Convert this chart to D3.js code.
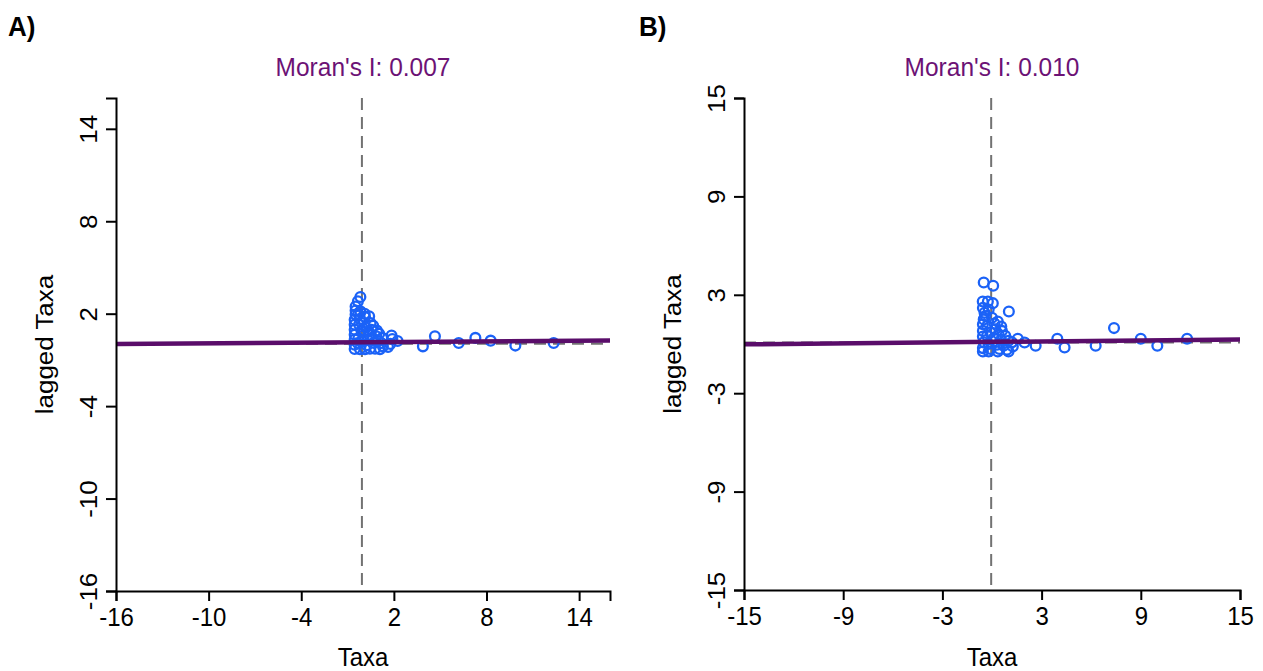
<!DOCTYPE html>
<html>
<head>
<meta charset="utf-8">
<script src="https://cdn.jsdelivr.net/npm/d3@7"></script>
<style>
  html, body { margin: 0; padding: 0; background: #ffffff; }
  svg { display: block; font-family: "Liberation Sans", Arial, Helvetica, sans-serif; }
</style>
</head>
<body>
<svg id="chart" width="1263" height="671"></svg>
<script>
// Moran scatterplots: taxa value vs spatially lagged taxa value

const panelLabels = ["A)", "B)"];
const moransI = [0.007, 0.010];
const lineIntercepts = [0.15, 0.13];
const meanTaxa = [-0.07, -0.05];
const meanLagged = [0.05, 0.09];
const xDomainsA = [-16, 16];
const xDomainsB = [-15, 15];
const ticksA = [-16, -10, -4, 2, 8, 14];
const ticksB = [-15, -9, -3, 3, 9, 15];

// Panel A: taxa and lagged taxa
const taxaA = [
  -0.17, -0.33, -0.48, -0.48, -0.48, -0.17, 0.11, -0.54, -0.54, -0.54,
  -0.54, -0.54, -0.54, -0.54, -0.20, 0.13, 0.40, 0.49, 0.66, 0.56,
  0.40, 0.87, 0.97, 1.25, 1.19, 1.29, 1.85, 1.90, 1.77, 1.62,
  -0.20, 0.13, 0.45, 0.78, 1.10, -0.30, -0.10, 0.20, 0.30, -0.25,
  0.05, 0.70, 0.25, -0.35, 0.90, 0.60, -0.05, 0.35, -0.30, 1.05,
  2.24, 3.88, 4.66, 6.20, 7.28, 8.27, 9.87, 12.35
];
const laggedA = [
  3.08, 2.80, 2.47, 2.21, 1.94, 2.15, 2.00, 1.61, 1.29, 0.96,
  0.64, 0.32, -0.01, -0.29, 1.66, 1.79, 1.83, 1.40, 1.22, 0.96,
  0.64, 0.53, 0.21, 0.43, 0.10, -0.12, 0.58, 0.36, 0.04, -0.16,
  -0.30, -0.30, -0.28, -0.28, -0.30, 0.40, 0.90, 1.10, 0.30, 1.30,
  0.60, 0.10, -0.05, 0.10, 0.90, 0.45, 0.20, 0.85, 2.00, 0.70,
  0.23, -0.12, 0.53, 0.10, 0.43, 0.25, -0.07, 0.10
];

// Panel B: taxa and lagged taxa
const taxaB = [
  -0.50, 0.07, 1.02, 7.38, 3.95, 4.39, 6.27, 9.00, 10.00, 11.80,
  2.64, 1.97, 1.56, 1.26,
  -0.56, -0.25, 0.05, -0.55, -0.45, -0.20, 0.00, -0.50, 0.35, 0.56,
  -0.55, -0.30, 0.20, -0.55, -0.10, 0.40, 0.80, -0.55, 0.10, 0.55,
  1.00, -0.50, -0.20, 0.30, 0.70, -0.55, -0.10, 0.45, 0.90, -0.55,
  0.35, 1.00, -0.20, -0.30, 0.15, -0.40, 1.20, 0.60
];
const laggedB = [
  3.75, 3.55, 1.98, 0.97, 0.32, -0.21, -0.11, 0.32, -0.11, 0.32,
  -0.11, 0.09, 0.32, -0.15,
  2.59, 2.59, 2.49, 2.20, 1.90, 2.10, 1.60, 1.50, 1.37, 1.07,
  1.20, 1.10, 0.90, 0.80, 0.70, 0.60, 0.50, 0.45, 0.35, 0.25,
  0.20, 0.10, 0.00, -0.05, -0.10, -0.25, -0.30, -0.30, -0.35, -0.46,
  -0.46, -0.45, -0.46, 0.50, 1.25, 1.70, 0.10, 0.80
];

const svg = d3.select("#chart");

const panels = [
  { label: panelLabels[0], I: moransI[0], b0: lineIntercepts[0], mx: meanTaxa[0], my: meanLagged[0],
    domain: xDomainsA, ticks: ticksA, xs: taxaA, ys: laggedA,
    box: { left: 116, right: 610, top: 98, bottom: 591 }, labelX: 8 },
  { label: panelLabels[1], I: moransI[1], b0: lineIntercepts[1], mx: meanTaxa[1], my: meanLagged[1],
    domain: xDomainsB, ticks: ticksB, xs: taxaB, ys: laggedB,
    box: { left: 744, right: 1240, top: 98, bottom: 590 }, labelX: 639 }
];

const purpleLine = "#5a0d6a";
const purpleText = "#6c1275";
const pointBlue = "#1b62f7";
const fontSize = 24;
const stretch = 1.08;   // glyphs drawn slightly taller than wide

panels.forEach(p => {
  const g = svg.append("g");
  const x = d3.scaleLinear().domain(p.domain).range([p.box.left, p.box.right]);
  const y = d3.scaleLinear().domain(p.domain).range([p.box.bottom, p.box.top]);

  // panel tag
  g.append("text")
    .attr("transform", `translate(${p.labelX},36) scale(1,${stretch})`)
    .attr("font-size", 26).attr("font-weight", "bold")
    .attr("fill", "#000")
    .text(p.label);

  // title
  g.append("text")
    .attr("transform", `translate(${(p.box.left + p.box.right) / 2},76) scale(1,${stretch})`)
    .attr("text-anchor", "middle")
    .attr("font-size", 24.5)
    .attr("fill", purpleText)
    .text("Moran's I: " + p.I.toFixed(3));

  // reference lines at the means
  g.append("line")
    .attr("x1", x(p.mx)).attr("x2", x(p.mx))
    .attr("y1", p.box.top).attr("y2", p.box.bottom)
    .attr("stroke", "#727272").attr("stroke-width", 2)
    .attr("stroke-dasharray", "12,7");
  g.append("line")
    .attr("x1", p.box.left).attr("x2", p.box.right)
    .attr("y1", y(p.my)).attr("y2", y(p.my))
    .attr("stroke", "#727272").attr("stroke-width", 2)
    .attr("stroke-dasharray", "12,7");

  // points
  const pts = p.xs.map((v, i) => [v, p.ys[i]]);
  g.append("g").selectAll("circle")
    .data(pts).join("circle")
    .attr("cx", d => x(d[0])).attr("cy", d => y(d[1]))
    .attr("r", 4.9)
    .attr("fill", "none")
    .attr("stroke", pointBlue)
    .attr("stroke-width", 2.3);

  // regression line, slope = Moran's I
  const x0 = p.domain[0], x1 = p.domain[1];
  g.append("line")
    .attr("x1", x(x0)).attr("y1", y(p.b0 + p.I * x0))
    .attr("x2", x(x1)).attr("y2", y(p.b0 + p.I * x1))
    .attr("stroke", purpleLine).attr("stroke-width", 4.5);

  // axes
  const fmt = d => String(d);
  const xAxis = d3.axisBottom(x).tickValues(p.ticks).tickFormat(fmt)
    .tickSizeOuter(0).tickSize(10).tickPadding(7);
  const yAxis = d3.axisLeft(y).tickValues(p.ticks).tickFormat(fmt)
    .tickSizeOuter(0).tickSize(10).tickPadding(0);

  const gx = g.append("g").attr("transform", `translate(0,${p.box.bottom})`).call(xAxis);
  const gy = g.append("g").attr("transform", `translate(${p.box.left},0)`).call(yAxis);

  [gx, gy].forEach(a => {
    a.select(".domain").attr("stroke", "#000").attr("stroke-width", 2);
    a.selectAll(".tick line").attr("stroke", "#000").attr("stroke-width", 2);
    a.selectAll(".tick text").attr("fill", "#000").attr("font-size", fontSize)
      .attr("font-family", "'Liberation Sans', Arial, sans-serif");
  });
  gx.selectAll(".tick text")
    .attr("y", null).attr("dy", null)
    .attr("transform", `translate(0,35) scale(1,${stretch})`);
  gy.selectAll(".tick text")
    .attr("x", null).attr("dy", null)
    .attr("text-anchor", "middle")
    .attr("transform", `translate(-19,0) rotate(-90) scale(${stretch},1)`);

  // axis titles
  g.append("text")
    .attr("transform", `translate(${(p.box.left + p.box.right) / 2},666) scale(1,${stretch})`)
    .attr("text-anchor", "middle").attr("font-size", fontSize).attr("fill", "#000")
    .text("Taxa");
  g.append("text")
    .attr("transform", `translate(${p.box.left - 63},${(p.box.top + p.box.bottom) / 2}) rotate(-90) scale(${stretch},1)`)
    .attr("text-anchor", "middle").attr("font-size", fontSize).attr("fill", "#000")
    .text("lagged Taxa");
});
</script>
</body>
</html>
